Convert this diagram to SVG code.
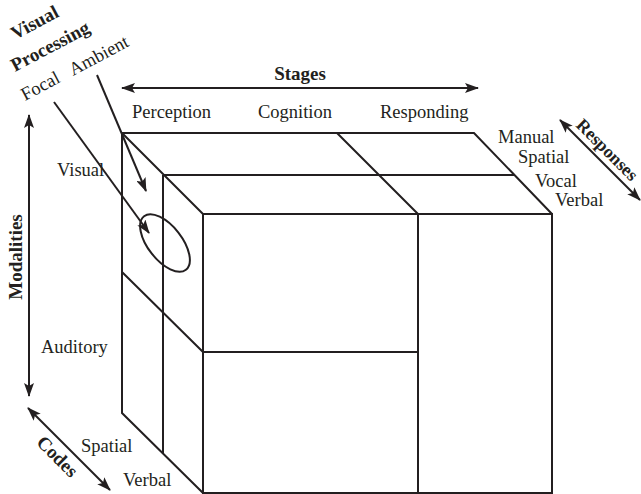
<svg xmlns="http://www.w3.org/2000/svg" width="641" height="494" viewBox="0 0 641 494">
<defs>
<style>
text{font-family:"Liberation Serif","Times New Roman",serif;font-size:18.5px;fill:#231f20}
.b{font-weight:bold;font-size:19px}
.ln{stroke:#231f20;stroke-width:2;fill:none}
.ar{stroke:#231f20;stroke-width:2;fill:none}
</style>
<marker id="ah" viewBox="0 0 14 10" refX="13" refY="5" markerWidth="14" markerHeight="10" markerUnits="userSpaceOnUse" orient="auto-start-reverse">
<path d="M0,0 L14,5 L0,10 L3,5 Z" fill="#231f20"/>
</marker>
</defs>
<rect width="641" height="494" fill="#fff"/>
<g id="cube">
<path class="ln" d="M122,133 H474 L552,214 M122,133 L203,214 M163,175 H515 M337,133 L418,214 M122,133 V413 L203,493 M163,175 V454 M122,272 L203,352 M203,352 H418 M418,214 V493"/>
<rect class="ln" x="203" y="214" width="349" height="279"/>
<ellipse class="ln" cx="165" cy="243" rx="34" ry="17" transform="rotate(52 165 243)"/>
</g>
<g id="connectors">
<line class="ar" x1="122" y1="88" x2="478" y2="88" marker-start="url(#ah)" marker-end="url(#ah)"/>
<line class="ar" x1="29" y1="115" x2="29" y2="396" marker-start="url(#ah)" marker-end="url(#ah)"/>
<line class="ar" x1="28" y1="408" x2="110" y2="490" marker-start="url(#ah)" marker-end="url(#ah)"/>
<line class="ar" x1="560" y1="120" x2="640" y2="200" marker-start="url(#ah)" marker-end="url(#ah)"/>
<line class="ar" x1="97" y1="75" x2="146" y2="191" marker-end="url(#ah)"/>
<line class="ar" x1="54" y1="102" x2="149" y2="233" marker-end="url(#ah)"/>
</g>
<g id="stages">
<text class="b" x="300" y="80" text-anchor="middle">Stages</text>
<text x="132" y="118">Perception</text>
<text x="258" y="118">Cognition</text>
<text x="380" y="118">Responding</text>
</g>
<g id="modalities">
<text class="b" transform="translate(22,257) rotate(-90)" text-anchor="middle">Modalities</text>
<text x="57" y="176">Visual</text>
<text x="41" y="353">Auditory</text>
</g>
<g id="codes">
<text class="b" transform="translate(53,461) rotate(45)" text-anchor="middle">Codes</text>
<text x="81" y="452">Spatial</text>
<text x="123" y="486">Verbal</text>
</g>
<g id="responses">
<text class="b" transform="translate(603,154) rotate(45)" text-anchor="middle" style="font-size:18px">Responses</text>
<text x="498" y="143">Manual</text>
<text x="518" y="163">Spatial</text>
<text x="535" y="187">Vocal</text>
<text x="555" y="206">Verbal</text>
</g>
<g id="visual-processing">
<text class="b" transform="translate(15,40) rotate(-28)">Visual</text>
<text class="b" transform="translate(15,72) rotate(-28)">Processing</text>
<text transform="translate(25,101) rotate(-28)">Focal</text>
<text transform="translate(73,76) rotate(-28)">Ambient</text>
</g>
</svg>
